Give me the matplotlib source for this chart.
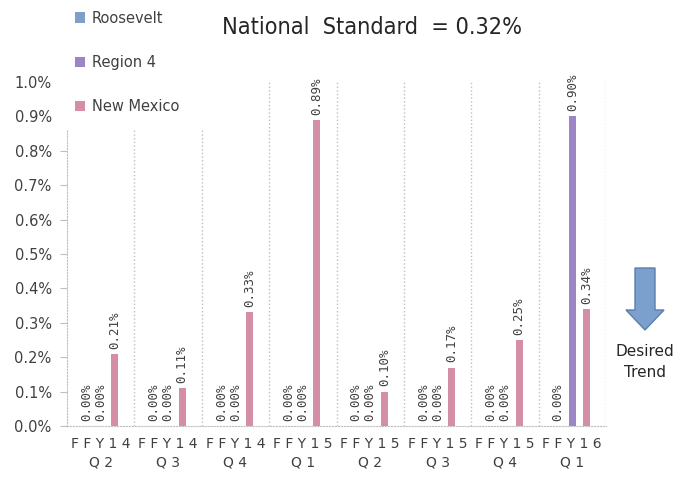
import matplotlib.pyplot as plt
from matplotlib.patches import FancyArrow, Rectangle
import numpy as np

# === Data ===
quarters = ["F F Y 1 4\nQ 2", "F F Y 1 4\nQ 3", "F F Y 1 4\nQ 4", "F F Y 1 5\nQ 1",
            "F F Y 1 5\nQ 2", "F F Y 1 5\nQ 3", "F F Y 1 5\nQ 4", "F F Y 1 6\nQ 1"]
series_names = ["Roosevelt", "Region 4", "New Mexico"]
roosevelt = [0.00, 0.00, 0.00, 0.00, 0.00, 0.00, 0.00, 0.00]
region4 = [0.00, 0.00, 0.00, 0.00, 0.00, 0.00, 0.00, 0.90]
new_mexico = [0.21, 0.11, 0.33, 0.89, 0.10, 0.17, 0.25, 0.34]
# Region 4 only reported in the last quarter
region4_shown = [False, False, False, False, False, False, False, True]
series_colors = ["#7F9FC8", "#9B85C4", "#D48EA6"]
yticks = [0.0, 0.1, 0.2, 0.3, 0.4, 0.5, 0.6, 0.7, 0.8, 0.9, 1.0]

# === Figure ===
fig = plt.figure(figsize=(6.8, 4.78), dpi=100)
ax = fig.add_axes([67 / 680, 1 - 426 / 478, 539 / 680, 344 / 478])

x = np.arange(len(quarters))
width = 0.105
offsets = [-0.21, 0.0, 0.21]
label_font = dict(family="DejaVu Sans Mono", fontsize=9, color="#404040")

all_vals = [roosevelt, region4, new_mexico]
for k, (vals, name, col, off) in enumerate(zip(all_vals, series_names, series_colors, offsets)):
    ax.bar(x + off, vals, width, color=col, label=name)
    for i, v in enumerate(vals):
        if k == 1 and v == 0 and region4_shown[i]:
            continue
        ax.text(x[i] + off, v + 0.015, f"{v:.2f}%", rotation=90, ha="center",
                va="bottom", **label_font)

# category separators
for b in np.arange(0.5, len(quarters) + 0.5, 1.0):
    ax.plot([b, b], [0, 1.0], color="#BFBFBF", linestyle=":", linewidth=1)

ax.set_xlim(-0.5, len(quarters) - 0.5)
ax.set_ylim(0, 1.0)
ax.set_yticks(yticks)
ax.set_yticklabels([f"{t:.1f}%" for t in yticks], fontsize=10.5, color="#404040")
ax.set_xticks(x)
ax.set_xticklabels(quarters, fontsize=10, color="#404040", linespacing=1.4)
ax.tick_params(axis="x", length=0, pad=8)
ax.tick_params(axis="y", length=5, color="#BFBFBF", pad=6)

for s in ["top", "right"]:
    ax.spines[s].set_visible(False)
for s in ["left", "bottom"]:
    ax.spines[s].set_color("#BFBFBF")
    ax.spines[s].set_linestyle(":")

# white legend area (covers the top of the axis, like the original)
fig.patches.append(Rectangle((56 / 680, 1 - 130 / 478), 160 / 680, 130 / 478,
                             transform=fig.transFigure, facecolor="white",
                             edgecolor="none", zorder=2))

leg = fig.legend(loc="upper left", bbox_to_anchor=(60 / 680, 1 + 4 / 478),
                 frameon=False, fontsize=10.5, labelspacing=2.0, handlelength=0.7,
                 handleheight=0.7, handletextpad=0.5, borderpad=0.5,
                 labelcolor="#404040")
leg.set_zorder(5)

title = fig.text(372 / 680, 1 - 27 / 478, "National  Standard  = 0.32%", ha="center",
                 va="center", fontsize=20, fontstretch="condensed",
                 family=["Liberation Sans Narrow", "DejaVu Sans"], color="#262626")
# fit the title to the width it has in the original
fig.canvas.draw()
w = title.get_window_extent().width
title.set_fontsize(20 * 300 / w)

# Desired trend arrow
arrow = FancyArrow(6.45, 4.78 - 2.68, 0, -0.62, width=0.2, head_width=0.38,
                   head_length=0.2, length_includes_head=True,
                   transform=fig.dpi_scale_trans, facecolor="#7BA0CD",
                   edgecolor="#5A7DAE", linewidth=1)
fig.patches.append(arrow)
fig.text(645 / 680, 1 - 362 / 478, "Desired\nTrend", ha="center", va="center",
         fontsize=11, color="#262626", linespacing=1.5)

fig.savefig("out.png", dpi=100)
